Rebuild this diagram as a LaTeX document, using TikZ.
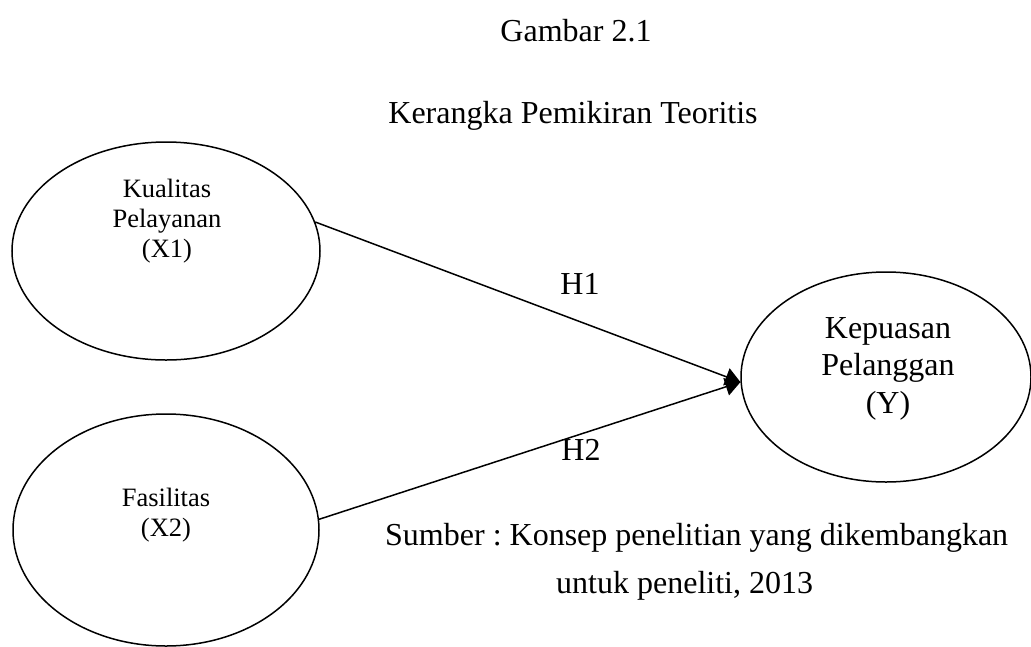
\documentclass[tikz,border=0pt]{standalone}
\usepackage{fontspec}
\setmainfont{Liberation Serif}
\frenchspacing
\usetikzlibrary{shapes.geometric, arrows.meta}
\tikzset{
  % Set arrowhead
  >={Triangle[length=15pt, width=18pt]},
  % Construct (variable) ellipse
  var/.style={draw, shape=ellipse, line width=1.5pt, inner sep=0pt},
  % Text inside the small ellipses (anchored at last line)
  vtext/.style={align=center, inner sep=0pt, anchor=base,
    font=\fontsize{26.5}{30}\selectfont},
  % Text inside the large ellipse
  ytext/.style={vtext, font=\fontsize{32}{37.5}\selectfont},
  % Free text
  ftext/.style={inner sep=0pt, anchor=base, font=\fontsize{32}{38}\selectfont},
  % Hypothesis arrows
  hyp/.style={->, line width=1.5pt},
}
\begin{document}
\begin{tikzpicture}[x=1pt, y=-1pt]
  \useasboundingbox (0,0) rectangle (1031,646);

  \node[ftext] (title) at (576,41) {Gambar 2.1};
  \node[ftext] (subtitle) at (573,123) {Kerangka Pemikiran Teoritis};

  \node[var, minimum width=308pt, minimum height=218pt] (x1) at (166,251) {};
  \node[var, minimum width=306pt, minimum height=232pt] (x2) at (166,530) {};
  \node[var, minimum width=290pt, minimum height=210pt] (y) at (886,377) {};

  \node[vtext] (x1text) at (167,257) {Kualitas\\Pelayanan\\(X1)};
  \node[vtext] (x2text) at (166,536) {Fasilitas\\(X2)};
  \node[ytext] (ytext) at (888,413) {Kepuasan\\Pelanggan\\(Y)};

  \draw[hyp] (x1.11) -- (y.182);
  \draw[hyp] (x2.4) -- (y.182);

  \node[ftext] (h1) at (580,294) {H1};
  \node[ftext] (h2) at (581,460) {H2};

  \node[ftext, anchor=base west] (source) at (385,545)
    {Sumber : Konsep penelitian yang dikembangkan};
  \node[ftext, anchor=base west] (source2) at (556,593) {untuk peneliti, 2013};
\end{tikzpicture}
\end{document}
